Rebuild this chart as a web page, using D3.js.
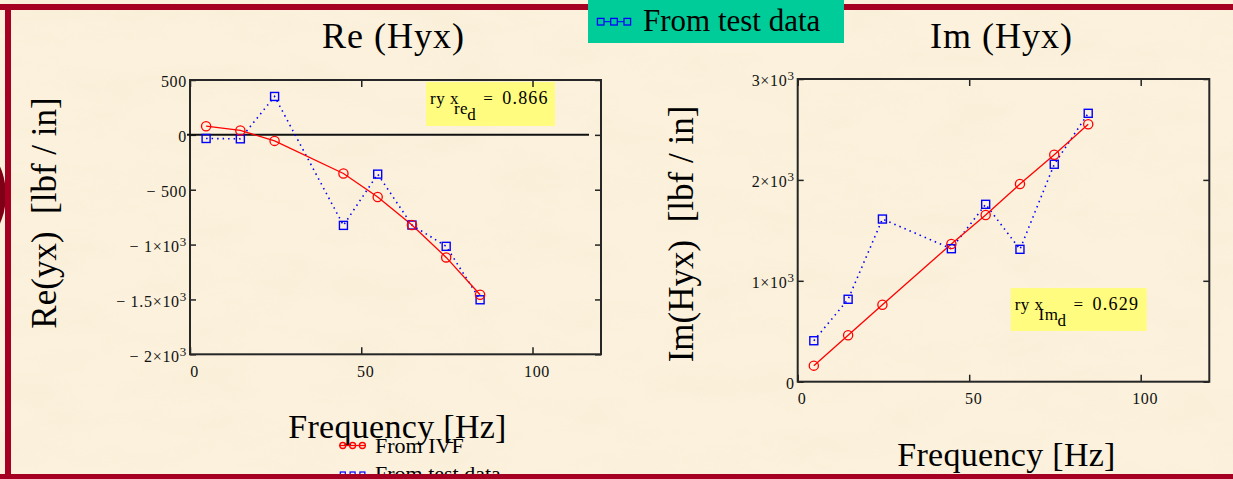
<!DOCTYPE html>
<html>
<head>
<meta charset="utf-8">
<script src="https://cdn.jsdelivr.net/npm/d3@7"></script>
<style>
  html, body { margin: 0; padding: 0; background: #fbf1dc; }
  svg { display: block; font-family: "Liberation Serif", "DejaVu Serif", serif; }
</style>
</head>
<body>
<svg id="chart" width="1233" height="479"></svg>
<script>
// frequencies shared by both panels [Hz]
const freq = [4.7, 14.7, 24.7, 44.8, 54.8, 64.8, 74.8, 84.7];
// Re(Hyx)
const reIVF = [79, 40, -55, -352, -567, -822, -1117, -1457];
const reTest = [-33, -36, 350, -825, -358, -822, -1016, -1503];
// Im(Hyx)
const imIVF = [159, 460, 763, 1365, 1652, 1959, 2250, 2551];
const imTest = [406, 817, 1612, 1318, 1758, 1312, 2155, 2660];

const xTicks = [0, 50, 100];
const reYTicks = [500, 0, -500, -1000, -1500, -2000];
const reYLabels = ["500", "0", "− 500", "− 1×10^3", "− 1.5×10^3", "− 2×10^3"];
const imYTicks = [3000, 2000, 1000, 0];
const imYLabels = ["3×10^3", "2×10^3", "1×10^3", "0"];
const corrValues = ["0.866", "0.629"];
const corrSubs = ["re", "Im"];
const legendNames = ["From IVF", "From test data"];

const svg = d3.select("#chart");
const defs = svg.append("defs");

// paper texture
const f = defs.append("filter").attr("id", "paper")
    .attr("x", 0).attr("y", 0).attr("width", "100%").attr("height", "100%");
f.append("feTurbulence").attr("type", "fractalNoise")
    .attr("baseFrequency", "0.012 0.03").attr("numOctaves", 4).attr("seed", 5);
f.append("feColorMatrix").attr("type", "matrix")
    .attr("values", "0 0 0 0 0.88  0 0 0 0 0.80  0 0 0 0 0.60  0.7 0 0 0 -0.3");

svg.append("rect").attr("width", 1233).attr("height", 479).attr("fill", "#fbf1dc");
svg.append("rect").attr("width", 1233).attr("height", 479).attr("filter", "url(#paper)").attr("opacity", 0.45);

// frame of the slide
svg.append("ellipse").attr("cx", -25).attr("cy", 195).attr("rx", 31).attr("ry", 48).attr("fill", "#7d0016");
svg.append("rect").attr("x", 0).attr("y", 4).attr("width", 1233).attr("height", 6).attr("fill", "#a50022");
svg.append("rect").attr("x", 5).attr("y", 4).attr("width", 6).attr("height", 475).attr("fill", "#a50022");

const panels = [
    { x0: 190, x1: 601, y0: 80, y1: 354.3, ydom: [-2000, 500], ivf: reIVF, test: reTest,
      yt: reYTicks, yl: reYLabels, title: "Re (Hyx)", ylab: "Re(yx)  [lbf / in]",
      ylabX: 56, ylabY: 213, xlabY: 438, box: [236, 2, 129, 44], zero: true },
    { x0: 797.7, x1: 1209.3, y0: 79, y1: 381.7, ydom: [0, 3000], ivf: imIVF, test: imTest,
      yt: imYTicks, yl: imYLabels, title: "Im (Hyx)", ylab: "Im(Hyx)  [lbf / in]",
      ylabX: 693, ylabY: 234, xlabY: 465.5, box: [213, 209, 136, 43], zero: false }
];

function supLabel(sel) {
    sel.each(function () {
        const t = d3.select(this);
        const s = t.text();
        if (s.indexOf("^") < 0) return;
        const parts = s.split("^");
        t.text(null);
        t.append("tspan").text(parts[0]);
        t.append("tspan").attr("dy", "-0.45em").attr("font-size", 13).text(parts[1]);
    });
}

panels.forEach((p, k) => {
    const x = d3.scaleLinear().domain([0, 120]).range([p.x0, p.x1]);
    const y = d3.scaleLinear().domain(p.ydom).range([p.y1, p.y0]);
    const g = svg.append("g");

    // annotation box
    const bx = p.x0 + p.box[0], by = p.y0 + p.box[1];
    g.append("rect").attr("x", bx).attr("y", by).attr("width", p.box[2]).attr("height", p.box[3])
        .attr("fill", "#fffc7f");
    const at = g.append("text").attr("x", bx + 4).attr("y", by + 22)
        .attr("font-size", 17).attr("letter-spacing", 0.5).attr("fill", "#000");
    at.append("tspan").text("ry x");
    at.append("tspan").attr("dx", -5).attr("dy", 10).text(corrSubs[k]);
    at.append("tspan").attr("dx", -1).attr("dy", 6).text("d");
    at.append("tspan").attr("dx", 7).attr("dy", -16).text("=");
    at.append("tspan").attr("dx", 9).attr("font-size", 18).attr("letter-spacing", 1.2).text(corrValues[k]);

    // axes with inward ticks
    const tickStyle = s => {
        s.select(".domain").remove();
        s.selectAll(".tick line").attr("stroke", "#222").attr("stroke-width", 1.5);
        s.selectAll(".tick text").attr("fill", "#111").attr("font-size", 16)
            .attr("letter-spacing", 0.7).attr("font-family", "Liberation Serif, serif");
    };
    g.append("g").attr("transform", `translate(${p.x0},0)`)
        .call(d3.axisLeft(y).tickValues(p.yt).tickSizeInner(-6).tickSizeOuter(0).tickPadding(3)
            .tickFormat((d, i) => p.yl[i]))
        .call(tickStyle)
        .call(s => s.selectAll(".tick text").attr("dy", "0.42em").call(supLabel));
    g.append("g").attr("transform", `translate(${p.x1},0)`)
        .call(d3.axisRight(y).tickValues(p.yt).tickSizeInner(-6).tickSizeOuter(0).tickFormat(""))
        .call(tickStyle);
    g.append("g").attr("transform", `translate(0,${p.y1})`)
        .call(d3.axisBottom(x).tickValues(xTicks).tickSizeInner(-7).tickSizeOuter(0).tickPadding(11))
        .call(tickStyle)
        .call(s => s.selectAll(".tick text").attr("dx", "0.25em"));
    g.append("g").attr("transform", `translate(0,${p.y0})`)
        .call(d3.axisTop(x).tickValues(xTicks).tickSizeInner(-7).tickSizeOuter(0).tickFormat(""))
        .call(tickStyle);

    g.append("rect").attr("x", p.x0).attr("y", p.y0)
        .attr("width", p.x1 - p.x0).attr("height", p.y1 - p.y0)
        .attr("fill", "none").attr("stroke", "#262626").attr("stroke-width", 2);

    if (p.zero) {
        g.append("line").attr("x1", p.x0 - 3).attr("x2", x(116.5))
            .attr("y1", y(0)).attr("y2", y(0)).attr("stroke", "#111").attr("stroke-width", 2);
    }

    // series
    const line = d3.line().x((d, i) => x(freq[i])).y(d => y(d));
    g.append("path").datum(p.test).attr("d", line).attr("fill", "none")
        .attr("stroke", "#0000ff").attr("stroke-width", 1.6).attr("stroke-dasharray", "1.5,4");
    g.append("path").datum(p.ivf).attr("d", line).attr("fill", "none")
        .attr("stroke", "#ff0000").attr("stroke-width", 1.3);
    g.selectAll(".sq").data(p.test).join("rect").attr("class", "sq")
        .attr("x", (d, i) => x(freq[i]) - 4).attr("y", d => y(d) - 4)
        .attr("width", 8).attr("height", 8)
        .attr("fill", "none").attr("stroke", "#0000ff").attr("stroke-width", 1.4);
    g.selectAll(".ci").data(p.ivf).join("circle").attr("class", "ci")
        .attr("cx", (d, i) => x(freq[i])).attr("cy", d => y(d)).attr("r", 4.6)
        .attr("fill", "none").attr("stroke", "#ff0000").attr("stroke-width", 1.3);

    // titles
    const cx = (p.x0 + p.x1) / 2;
    g.append("text").attr("x", cx - 2).attr("y", 48).attr("text-anchor", "middle")
        .attr("font-size", 36).attr("letter-spacing", 1).text(p.title);
    g.append("text").attr("transform", `translate(${p.ylabX},${p.ylabY}) rotate(-90)`)
        .attr("text-anchor", "middle").attr("font-size", 35).attr("xml:space", "preserve").text(p.ylab);
    g.append("text").attr("x", cx + (k === 0 ? 2 : 3)).attr("y", p.xlabY).attr("text-anchor", "middle")
        .attr("font-size", 34).attr("letter-spacing", 0.3).text("Frequency [Hz]");
});

// legend under the left panel
const lg = svg.append("g");
const lx = [342.8, 352.6, 362.4];
lg.append("line").attr("x1", 339).attr("x2", 366).attr("y1", 445.5).attr("y2", 445.5)
    .attr("stroke", "#ff0000").attr("stroke-width", 1.3);
lg.selectAll("circle").data(lx).join("circle").attr("cx", d => d).attr("cy", 445.5).attr("r", 3)
    .attr("fill", "none").attr("stroke", "#ff0000").attr("stroke-width", 1.3);
lg.append("text").attr("x", 375).attr("y", 452.7).attr("font-size", 22).text(legendNames[0]);
lg.selectAll("rect").data(lx).join("rect").attr("x", d => d - 2.5).attr("y", 472).attr("width", 5).attr("height", 5)
    .attr("fill", "none").attr("stroke", "#0000ff").attr("stroke-width", 1.2);
lg.append("text").attr("x", 375).attr("y", 481).attr("font-size", 22).text(legendNames[1]);

// bottom band drawn over the clipped legend
svg.append("rect").attr("x", 0).attr("y", 474).attr("width", 1233).attr("height", 6).attr("fill", "#a50022");

// green legend box at top
const gb = svg.append("g");
gb.append("rect").attr("x", 588).attr("y", 0).attr("width", 256).attr("height", 43).attr("fill", "#00cc99");
const gx = [600.7, 614, 627.3];
gb.append("line").attr("x1", 597).attr("x2", 631).attr("y1", 21.7).attr("y2", 21.7)
    .attr("stroke", "#0000ff").attr("stroke-width", 1);
gb.selectAll("rect.m").data(gx).join("rect").attr("class", "m")
    .attr("x", d => d - 3.3).attr("y", 18.4).attr("width", 6.6).attr("height", 6.6)
    .attr("fill", "#00cc99").attr("stroke", "#0000ff").attr("stroke-width", 1.3);
gb.append("text").attr("x", 643).attr("y", 31).attr("font-size", 31).text(legendNames[1]);
</script>
</body>
</html>
